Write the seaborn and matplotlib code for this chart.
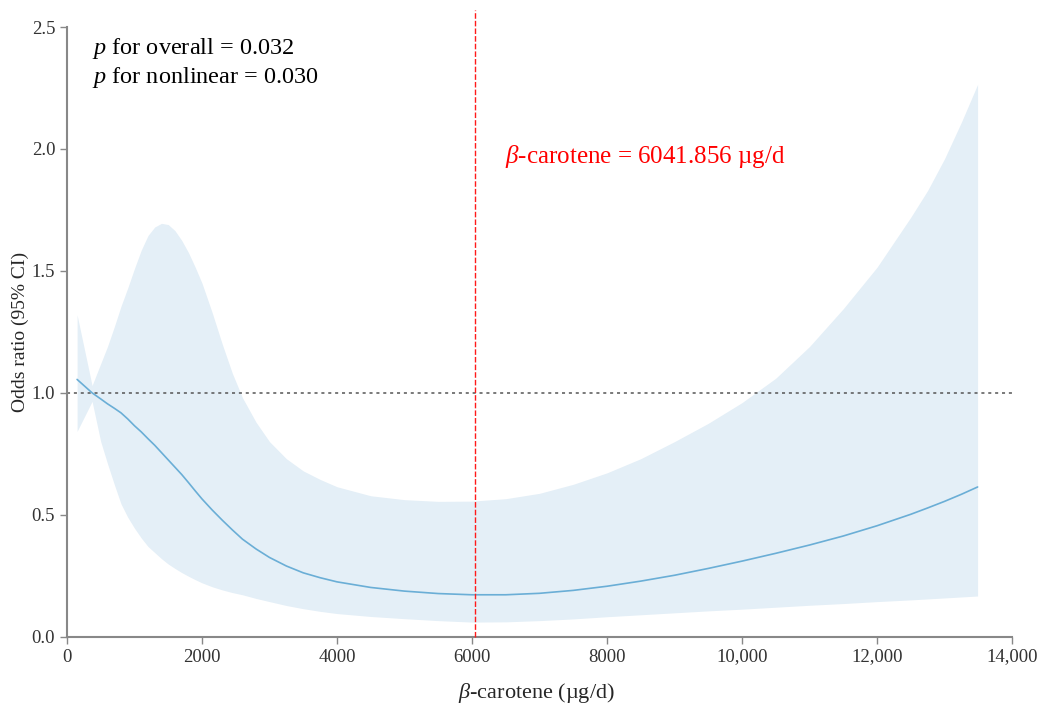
import numpy as np
import pandas as pd
import seaborn as sns
import matplotlib
matplotlib.use("Agg")
import matplotlib.pyplot as plt

# values
carotene = [150, 372, 500, 600, 700, 800, 900, 1000, 1100, 1200, 1300, 1400,
            1500, 1600, 1700, 1800, 1900, 2000, 2150, 2300, 2450, 2600, 2800,
            3000, 3250, 3500, 3750, 4000, 4500, 5000, 5500, 6000, 6500, 7000,
            7500, 8000, 8500, 9000, 9500, 10000, 10500, 11000, 11500, 12000,
            12500, 12750, 13000, 13250, 13490]
odds = [1.055, 1.0, 0.975, 0.955, 0.937, 0.918, 0.893, 0.865, 0.84, 0.812,
        0.785, 0.755, 0.725, 0.695, 0.665, 0.632, 0.598, 0.565, 0.52, 0.478,
        0.438, 0.40, 0.36, 0.325, 0.29, 0.262, 0.242, 0.225, 0.202, 0.187,
        0.177, 0.172, 0.172, 0.178, 0.19, 0.207, 0.228, 0.252, 0.28, 0.31,
        0.342, 0.376, 0.413, 0.455, 0.502, 0.528, 0.555, 0.584, 0.614]
ci_low = [0.842, 0.965, 0.80, 0.71, 0.625, 0.545, 0.49, 0.445, 0.405, 0.37,
          0.345, 0.32, 0.298, 0.28, 0.263, 0.248, 0.234, 0.221, 0.205, 0.192,
          0.181, 0.172, 0.157, 0.144, 0.128, 0.115, 0.104, 0.095, 0.083, 0.074,
          0.066, 0.06, 0.061, 0.066, 0.073, 0.082, 0.09, 0.098, 0.106, 0.113,
          0.121, 0.129, 0.136, 0.144, 0.151, 0.155, 0.159, 0.163, 0.167]
ci_high = [1.32, 1.03, 1.12, 1.19, 1.27, 1.355, 1.43, 1.51, 1.585, 1.645, 1.68,
           1.695, 1.69, 1.665, 1.625, 1.575, 1.515, 1.45, 1.33, 1.20, 1.08,
           0.98, 0.88, 0.80, 0.73, 0.68, 0.645, 0.615, 0.578, 0.562, 0.555,
           0.556, 0.566, 0.588, 0.625, 0.672, 0.73, 0.80, 0.875, 0.96, 1.06,
           1.19, 1.345, 1.515, 1.72, 1.83, 1.96, 2.11, 2.265]
cutoff = 6041.856
x_ticks = [0, 2000, 4000, 6000, 8000, 10000, 12000, 14000]
x_labels = ["0", "2000", "4000", "6000", "8000", "10,000", "12,000", "14,000"]
y_ticks = [0.0, 0.5, 1.0, 1.5, 2.0, 2.5]

df = pd.DataFrame({"carotene": carotene, "odds": odds,
                   "low": ci_low, "high": ci_high})

sns.set_style("ticks")
plt.rcParams["font.family"] = ["Liberation Serif", "DejaVu Serif"]
plt.rcParams["mathtext.fontset"] = "custom"
plt.rcParams["mathtext.rm"] = "Liberation Serif"
plt.rcParams["mathtext.it"] = "Liberation Serif:italic"

fig = plt.figure(figsize=(10.53, 7.07), dpi=100)
ax = fig.add_axes([0.0636, 0.0994, 0.8975, 0.8624])

ax.fill_between(df["carotene"], df["low"], df["high"], color="#e4eff7",
                linewidth=0, zorder=1)
sns.lineplot(data=df, x="carotene", y="odds", ax=ax, color="#6aaed6",
             linewidth=1.2, zorder=3)

ax.axhline(1.0, color="#555555", linestyle=(0, (2, 2.5)), linewidth=1.1, zorder=2)
ax.plot([cutoff, cutoff], [0, 1.028], transform=ax.get_xaxis_transform(),
        color="#ff1a1a", linestyle=(0, (4, 1.5)), linewidth=1.0, clip_on=False,
        zorder=4)

ax.text(0.027, 0.965, r"$p$ for overall = 0.032", transform=ax.transAxes,
        fontsize=17.5, va="center", ha="left", color="black")
ax.text(0.027, 0.917, r"$p$ for nonlinear = 0.030", transform=ax.transAxes,
        fontsize=17.5, va="center", ha="left", color="black")
ax.text(0.4635, 0.788, r"$\beta$-carotene = 6041.856 µg/d", transform=ax.transAxes,
        fontsize=18, va="center", ha="left", color="#ff0000")

ax.set_xlim(0, 14000)
ax.set_ylim(0, 2.5)
ax.set_xticks(x_ticks)
ax.set_xticklabels(x_labels)
ax.set_yticks(y_ticks)
ax.set_yticklabels([f"{v:.1f}" for v in y_ticks])

ax.set_xlabel(r"$\beta$-carotene (µg/d)", fontsize=16, labelpad=8)
ax.set_ylabel("Odds ratio (95% CI)", fontsize=14, labelpad=2)
ax.xaxis.set_label_coords(0.497, -0.072)

for side in ["top", "right"]:
    ax.spines[side].set_visible(False)
for side in ["left", "bottom"]:
    ax.spines[side].set_color("#888888")
    ax.spines[side].set_linewidth(1.5)
ax.tick_params(axis="both", colors="#888888", labelcolor="#333333",
               labelsize=13.5, length=5, width=1)

fig.savefig("out.png", dpi=100)
